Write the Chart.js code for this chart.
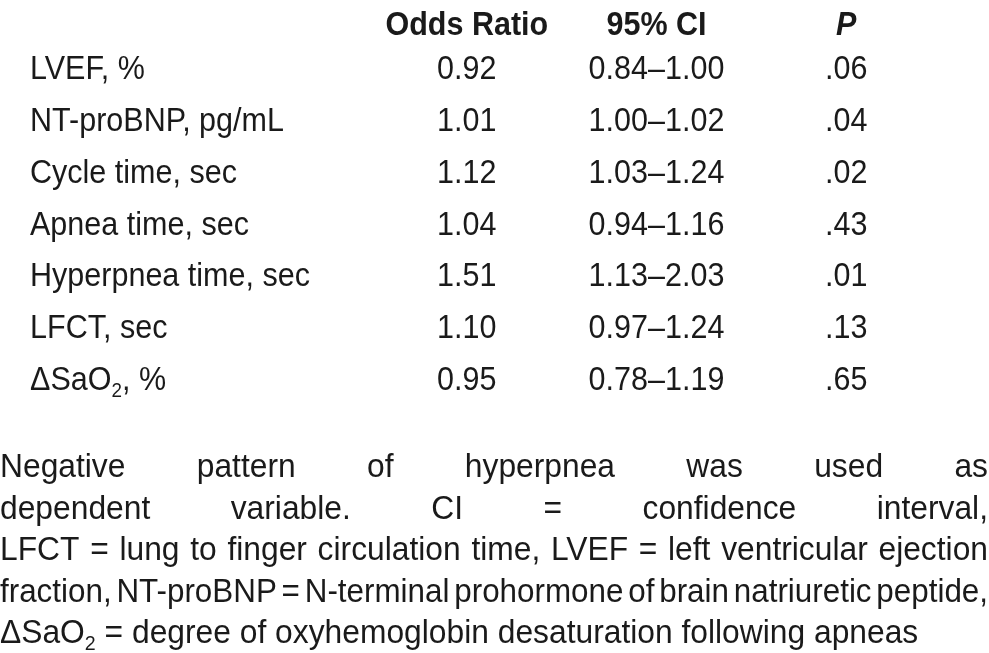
<!DOCTYPE html>
<html>
<head>
<meta charset="utf-8">
<style>
html,body{margin:0;padding:0;background:#fff;}
canvas{display:block;}
</style>
<script src="https://cdn.jsdelivr.net/npm/chart.js@4.4.1/dist/chart.umd.min.js"></script>
</head>
<body>
<canvas id="c" width="989" height="653"></canvas>
<script>
// ---- data ----
const columnHeaders = ['Odds Ratio', '95% CI', 'P'];
const rowLabels = ['LVEF, %', 'NT-proBNP, pg/mL', 'Cycle time, sec', 'Apnea time, sec', 'Hyperpnea time, sec', 'LFCT, sec', 'ΔSaO₂, %'];
const oddsRatio = [0.92, 1.01, 1.12, 1.04, 1.51, 1.10, 0.95];
const ciLower = [0.84, 1.00, 1.03, 0.94, 1.13, 0.97, 0.78];
const ciUpper = [1.00, 1.02, 1.24, 1.16, 2.03, 1.24, 1.19];
const pValues = [0.06, 0.04, 0.02, 0.43, 0.01, 0.13, 0.65];
const footnoteLines = [
  'Negative pattern of hyperpnea was used as',
  'dependent variable. CI = confidence interval,',
  'LFCT = lung to finger circulation time, LVEF = left ventricular ejection',
  'fraction, NT-proBNP = N-terminal prohormone of brain natriuretic peptide,',
  'ΔSaO₂ = degree of oxyhemoglobin desaturation following apneas'
];

// ---- font setup ----
const canvas = document.getElementById('c');
const c0 = canvas.getContext('2d');
c0.font = '34px "Liberation Sans Narrow", monospace';
const wA = c0.measureText('LVEF abc Negative').width;
c0.font = '34px monospace';
const wB = c0.measureText('LVEF abc Negative').width;
const narrowOK = Math.abs(wA - wB) > 0.5;
const FAMILY = narrowOK ? '"Liberation Sans Narrow", "Arial Narrow", sans-serif' : '"Liberation Sans", Arial, sans-serif';
const SX = narrowOK ? 1 : 0.82;
const SIZE = 34;
const TABLE_STRETCH = 1.095;
const NOTE_STRETCH = 1.14;

function fontStr(size, weight, style) {
  return (style || 'normal') + ' ' + (weight || 'normal') + ' ' + size + 'px ' + FAMILY;
}
function segments(text) {
  const out = [];
  let cur = '';
  for (const ch of text) {
    if (ch === '₂') {
      if (cur) out.push({t: cur, sub: false});
      out.push({t: '2', sub: true});
      cur = '';
    } else cur += ch;
  }
  if (cur) out.push({t: cur, sub: false});
  return out;
}
function measureRich(ctx, text, size, weight, style, stretch) {
  let w = 0;
  for (const s of segments(text)) {
    ctx.font = fontStr(s.sub ? Math.round(size * 0.62) : size, weight, style);
    w += ctx.measureText(s.t).width;
  }
  return w * SX * (stretch || 1);
}
function drawRich(ctx, text, x, y, align, size, weight, style, stretch) {
  const f = stretch || 1;
  const w = measureRich(ctx, text, size, weight, style, f);
  let sx = x;
  if (align === 'center') sx = x - w / 2;
  else if (align === 'right') sx = x - w;
  ctx.save();
  ctx.translate(sx, y);
  ctx.scale(SX * f, 1);
  ctx.textAlign = 'left';
  ctx.textBaseline = 'alphabetic';
  ctx.fillStyle = '#1a1a1a';
  let cx = 0;
  for (const s of segments(text)) {
    const sz = s.sub ? Math.round(size * 0.62) : size;
    ctx.font = fontStr(sz, weight, style);
    ctx.fillText(s.t, cx, s.sub ? size * 0.2 : 0);
    cx += ctx.measureText(s.t).width;
  }
  ctx.restore();
  return w;
}
function fmtP(v) {
  return v.toFixed(2).replace(/^0/, '');
}

const tablePlugin = {
  id: 'tablePlugin',
  beforeDraw(chart) {
    const ctx = chart.ctx;
    ctx.save();
    ctx.fillStyle = '#ffffff';
    ctx.fillRect(0, 0, chart.width, chart.height);
    ctx.restore();
  },
  afterDraw(chart) {
    const ctx = chart.ctx;
    const xs = chart.scales.x, ys = chart.scales.y;
    const capHalf = 12;
    const T = TABLE_STRETCH;
    // header
    columnHeaders.forEach((h, j) => {
      drawRich(ctx, h, xs.getPixelForValue(j), ys.top - 6, 'center', SIZE, 'bold', j === 2 ? 'italic' : 'normal', T);
    });
    // rows
    rowLabels.forEach((lab, i) => {
      const y = ys.getPixelForValue(i) + capHalf;
      drawRich(ctx, lab, 30, y, 'left', SIZE, 'normal', 'normal', T);
      drawRich(ctx, oddsRatio[i].toFixed(2), xs.getPixelForValue(0), y, 'center', SIZE, 'normal', 'normal', T);
      drawRich(ctx, ciLower[i].toFixed(2) + '–' + ciUpper[i].toFixed(2), xs.getPixelForValue(1), y, 'center', SIZE, 'normal', 'normal', T);
      drawRich(ctx, fmtP(pValues[i]), xs.getPixelForValue(2), y, 'center', SIZE, 'normal', 'normal', T);
    });
    // footnote (justified)
    const N = NOTE_STRETCH;
    const left = 0, right = chart.width - 1, W = right - left;
    const base0 = ys.bottom + 73, lh = 41.6;
    footnoteLines.forEach((line, k) => {
      const y = base0 + k * lh;
      const words = line.split(' ');
      const last = k === footnoteLines.length - 1;
      const ws = words.map(w => measureRich(ctx, w, SIZE, 'normal', 'normal', N));
      const total = ws.reduce((a, b) => a + b, 0);
      const spaceW = measureRich(ctx, ' ', SIZE, 'normal', 'normal', N);
      if (last) {
        let x = left;
        words.forEach((w, i) => { drawRich(ctx, w, x, y, 'left', SIZE, 'normal', 'normal', N); x += ws[i] + spaceW; });
        return;
      }
      let gap = (W - total) / (words.length - 1);
      let f = 1;
      const minGap = spaceW * 0.55;
      if (gap < minGap) {
        f = W / (total + minGap * (words.length - 1));
        gap = minGap * f;
      }
      let x = left;
      words.forEach((w, i) => { drawRich(ctx, w, x, y, 'left', SIZE, 'normal', 'normal', N * f); x += ws[i] * f + gap; });
    });
  }
};

new Chart(canvas, {
  type: 'line',
  data: { labels: columnHeaders, datasets: [] },
  options: {
    responsive: false,
    animation: false,
    devicePixelRatio: 1,
    layout: { padding: { left: 372, right: 48, top: 41, bottom: 249 } },
    plugins: { legend: { display: false }, tooltip: { enabled: false }, title: { display: false } },
    scales: {
      x: { type: 'category', labels: columnHeaders, offset: true, display: false },
      y: { type: 'category', labels: rowLabels, offset: true, display: false }
    }
  },
  plugins: [tablePlugin]
});
</script>
</body>
</html>
